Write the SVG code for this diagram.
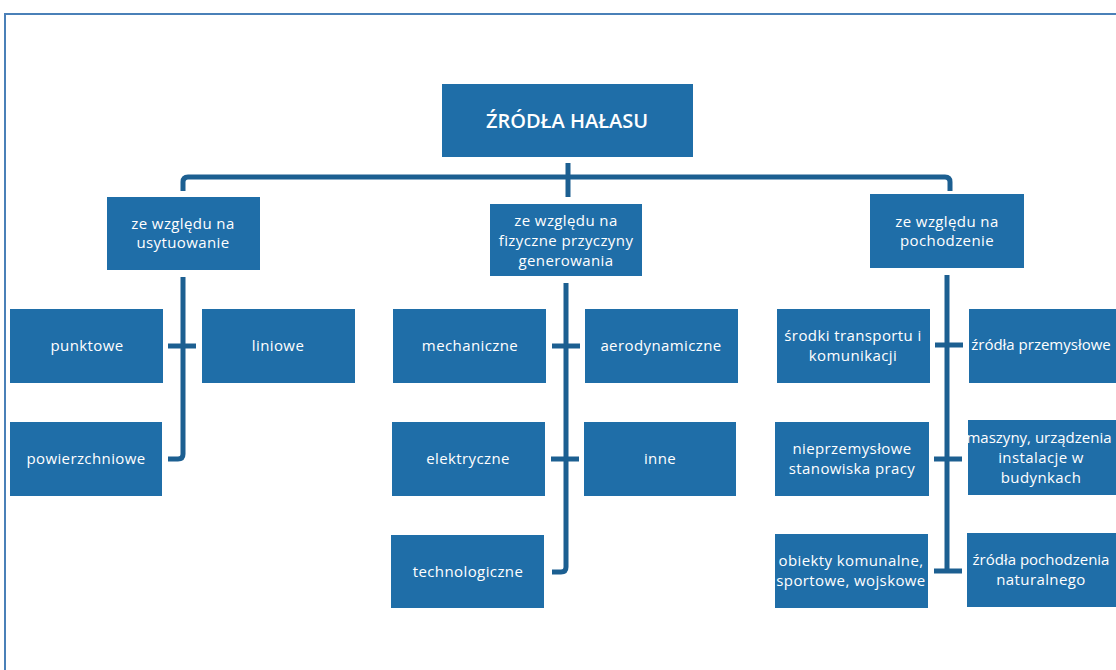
<svg xmlns="http://www.w3.org/2000/svg" width="1116" height="670" viewBox="0 0 1116 670">
<style>
.box{fill:#1f6ea8;}
.t{fill:#ffffff;font-family:"Open Sans","Liberation Sans",sans-serif;font-size:15px;text-anchor:middle;letter-spacing:0.4px;}
.n{letter-spacing:0px;}
.title{fill:#ffffff;font-family:"Open Sans","Liberation Sans",sans-serif;font-size:20px;font-weight:600;text-anchor:middle;}
.c{fill:none;stroke:#1c5f91;stroke-width:5;stroke-linejoin:round;stroke-linecap:butt;}
.frame{fill:none;stroke:#4a80b8;stroke-width:2;}
</style>
<rect x="0" y="0" width="1116" height="670" fill="#ffffff"/>
<path class="frame" d="M5,670 L5,14 L1116,14"/>
<g id="connectors">
<path class="c" d="M568,163 L568,197"/>
<path class="c" d="M183,191 L183,182 Q183,177 188,177 L945,177 Q950,177 950,182 L950,191"/>
<path class="c" d="M183,277 L183,454 Q183,459 178,459 L168,459"/>
<path class="c" d="M168,346 L196,346"/>
<path class="c" d="M566,283 L566,567 Q566,572 561,572 L552,572"/>
<path class="c" d="M552,346 L580,346"/>
<path class="c" d="M551,459 L579,459"/>
<path class="c" d="M947,275 L947,571"/>
<path class="c" d="M935,345 L963,345"/>
<path class="c" d="M934,459 L962,459"/>
<path class="c" d="M934,571 L962,571"/>
</g>
<g id="root"><rect class="box" x="442" y="84" width="251" height="73"/><text class="title" x="567" y="128">ŹRÓDŁA HAŁASU</text></g>
<g id="cat-usytuowanie"><rect class="box" x="107" y="197" width="153" height="73"/><text class="t" x="183" y="229">ze względu na</text><text class="t" x="183" y="248">usytuowanie</text></g>
<g id="cat-fizyczne"><rect class="box" x="490" y="204" width="152" height="72"/><text class="t" x="566" y="226">ze względu na</text><text class="t" x="566" y="246">fizyczne przyczyny</text><text class="t" x="566" y="266">generowania</text></g>
<g id="cat-pochodzenie"><rect class="box" x="870" y="194" width="154" height="74"/><text class="t" x="947" y="227">ze względu na</text><text class="t" x="947" y="246">pochodzenie</text></g>
<g id="punktowe"><rect class="box" x="10" y="309" width="153" height="74"/><text class="t" x="87" y="351">punktowe</text></g>
<g id="liniowe"><rect class="box" x="202" y="309" width="153" height="74"/><text class="t" x="278" y="351">liniowe</text></g>
<g id="powierzchniowe"><rect class="box" x="10" y="422" width="152" height="74"/><text class="t" x="86" y="464">powierzchniowe</text></g>
<g id="mechaniczne"><rect class="box" x="393" y="309" width="153" height="74"/><text class="t" x="470" y="351">mechaniczne</text></g>
<g id="aerodynamiczne"><rect class="box" x="585" y="309" width="153" height="74"/><text class="t" x="661" y="351">aerodynamiczne</text></g>
<g id="elektryczne"><rect class="box" x="392" y="422" width="153" height="74"/><text class="t" x="468" y="464">elektryczne</text></g>
<g id="inne"><rect class="box" x="584" y="422" width="152" height="74"/><text class="t" x="660" y="464">inne</text></g>
<g id="technologiczne"><rect class="box" x="391" y="535" width="153" height="73"/><text class="t" x="468" y="577">technologiczne</text></g>
<g id="srodki"><rect class="box" x="777" y="309" width="153" height="74"/><text class="t" x="853" y="341">środki transportu i</text><text class="t" x="853" y="361">komunikacji</text></g>
<g id="przemyslowe"><rect class="box" x="969" y="309" width="160" height="74"/><text class="t n" x="1041" y="350">źródła przemysłowe</text></g>
<g id="nieprzemyslowe"><rect class="box" x="775" y="422" width="154" height="74"/><text class="t" x="852" y="454">nieprzemysłowe</text><text class="t" x="852" y="474">stanowiska pracy</text></g>
<g id="maszyny"><rect class="box" x="968" y="420" width="160" height="75"/><text class="t n" x="1039" y="443">maszyny, urządzenia</text><text class="t" x="1041" y="463">instalacje w</text><text class="t" x="1041" y="483">budynkach</text></g>
<g id="obiekty"><rect class="box" x="775" y="534" width="153" height="74"/><text class="t" x="851" y="566">obiekty komunalne,</text><text class="t" x="851" y="586">sportowe, wojskowe</text></g>
<g id="naturalne"><rect class="box" x="967" y="533" width="160" height="74"/><text class="t n" x="1041" y="565">źródła pochodzenia</text><text class="t" x="1041" y="585">naturalnego</text></g>
</svg>
